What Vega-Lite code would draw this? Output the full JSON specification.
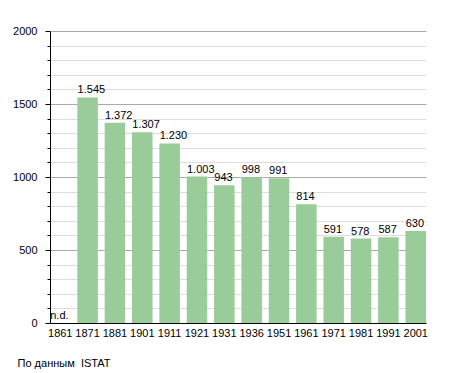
{
  "$schema": "https://vega.github.io/schema/vega-lite/v6.json",
  "width": 376,
  "height": 292,
  "autosize": "none",
  "padding": {"left": 50, "top": 31, "right": 29, "bottom": 50},
  "background": "white",
  "config": {
    "view": {"stroke": null},
    "font": "Liberation Sans",
    "axis": {"labelFont": "Liberation Sans", "labelFontSize": 11, "labelColor": "black"}
  },
  "title": {
    "text": "По данным\u00a0 ISTAT",
    "orient": "bottom",
    "anchor": "start",
    "frame": "bounds",
    "fontSize": 11,
    "fontWeight": "normal",
    "font": "Liberation Sans",
    "color": "black",
    "offset": 20,
    "dx": 5
  },
  "data": {
    "values": [
      {"year": "1861", "value": 0, "label": "n.d."},
      {"year": "1871", "value": 1545, "label": "1.545"},
      {"year": "1881", "value": 1372, "label": "1.372"},
      {"year": "1901", "value": 1307, "label": "1.307"},
      {"year": "1911", "value": 1230, "label": "1.230"},
      {"year": "1921", "value": 1003, "label": "1.003"},
      {"year": "1931", "value": 943, "label": "943"},
      {"year": "1936", "value": 998, "label": "998"},
      {"year": "1951", "value": 991, "label": "991"},
      {"year": "1961", "value": 814, "label": "814"},
      {"year": "1971", "value": 591, "label": "591"},
      {"year": "1981", "value": 578, "label": "578"},
      {"year": "1991", "value": 587, "label": "587"},
      {"year": "2001", "value": 630, "label": "630"}
    ]
  },
  "encoding": {
    "x": {
      "field": "year",
      "type": "ordinal",
      "scale": {"paddingInner": 0.25, "paddingOuter": 0},
      "axis": {
        "title": null,
        "labelAngle": 0,
        "ticks": false,
        "domainColor": "black",
        "labelPadding": 4
      }
    },
    "y": {
      "field": "value",
      "type": "quantitative",
      "scale": {"domain": [0, 2000], "nice": false},
      "axis": {
        "title": null,
        "values": [0,100,200,300,400,500,600,700,800,900,1000,1100,1200,1300,1400,1500,1600,1700,1800,1900,2000],
        "format": "d",
        "labelExpr": "datum.value % 500 === 0 ? datum.value : ''",
        "domainColor": "black",
        "tickColor": "black",
        "tickSize": {"condition": {"test": "datum.value % 500 === 0", "value": 5}, "value": 3},
        "labelPadding": {"condition": {"test": "datum.value % 500 === 0", "value": 8}, "value": 10},
        "gridColor": {"condition": {"test": "datum.value % 500 === 0", "value": "#aaaaaa"}, "value": "#dddddd"},
        "gridWidth": 1
      }
    }
  },
  "layer": [
    {"mark": {"type": "bar", "color": "#99cc99"}},
    {
      "mark": {"type": "text", "align": "left", "baseline": "alphabetic", "dx": -10, "dy": -4, "fontSize": 11, "color": "black"},
      "encoding": {"text": {"field": "label"}}
    }
  ]
}
